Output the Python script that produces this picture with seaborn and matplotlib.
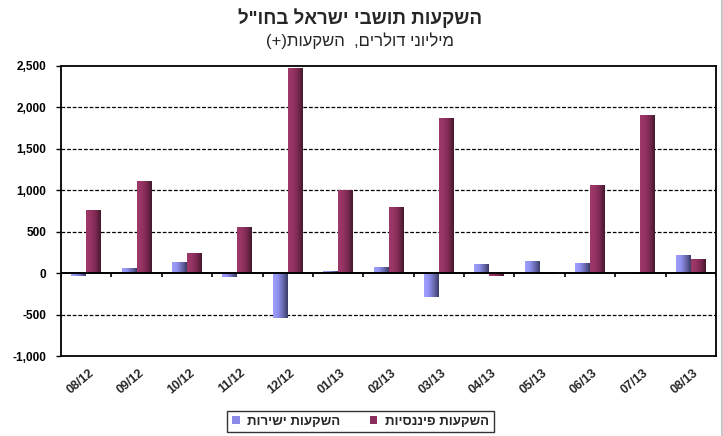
import numpy as np
import pandas as pd
import matplotlib
matplotlib.use('Agg')
import matplotlib.pyplot as plt
import seaborn as sns
from matplotlib.colors import LinearSegmentedColormap
from matplotlib.patches import Patch
from matplotlib.lines import Line2D
from matplotlib.transforms import ScaledTranslation

# ---- data ----
months = ['08/12', '09/12', '10/12', '11/12', '12/12', '01/13', '02/13',
          '03/13', '04/13', '05/13', '06/13', '07/13', '08/13']
direct = [-30, 50, 125, -45, -540, 15, 65, -285, 100, 135, 110, -15, 210]
financial = [750, 1110, 230, 545, 2470, 995, 785, 1870, -30, -15, 1050, 1895, 160]
series_direct = 'השקעות ישירות'
series_fin = 'השקעות פיננסיות'
title_text = 'השקעות תושבי ישראל בחו"ל'
yticks = [-1000, -500, 0, 500, 1000, 1500, 2000, 2500]


def vis(s):
    """Visual (left-to-right) order for a pure Hebrew string."""
    return s[::-1]


# visual order of the subtitle
subtitle_vis = '(+)' + vis('השקעות') + '  ,' + vis('דולרים') + ' ' + vis('מיליוני')

df = pd.DataFrame({
    'month': months * 2,
    'value': direct + financial,
    'series': [series_direct] * len(months) + [series_fin] * len(months),
})

sns.set_style('white')
plt.rcParams['font.family'] = ['Liberation Sans', 'DejaVu Sans']

fig = plt.figure(figsize=(7.23, 4.36), dpi=100)
ax = fig.add_axes([61 / 723, 80 / 436, (716 - 61) / 723, (356 - 66) / 436])

mid_direct = '#8282e0'
mid_fin = '#8a2d5c'
sns.barplot(data=df, x='month', y='value', hue='series',
            hue_order=[series_direct, series_fin], order=months,
            palette=[mid_direct, mid_fin], width=0.59, legend=False,
            ax=ax, zorder=2, linewidth=0)

cm_direct = LinearSegmentedColormap.from_list(
    'd', ['#a0a0ff', '#9090f0', '#6a6ab0', '#3c3c68'])
cm_fin = LinearSegmentedColormap.from_list(
    'f', ['#9e3a6b', '#963363', '#7a2850', '#421a2e'])
grad = np.linspace(0, 1, 64).reshape(1, -1)
for cont, cmap in zip(ax.containers, [cm_direct, cm_fin]):
    for p in cont.patches:
        x, y = p.get_x(), p.get_y()
        w, h = p.get_width(), p.get_height()
        if h == 0:
            continue
        ax.imshow(grad, cmap=cmap, extent=(x, x + w, min(y, y + h), max(y, y + h)),
                  aspect='auto', zorder=3, interpolation='bilinear')

ax.set_xlim(-0.5, len(months) - 0.5)
ax.set_ylim(-1000, 2500)

# grid & zero line
for v in yticks:
    if v not in (0, -1000, 2500):
        ax.axhline(v, color='black', lw=0.9, ls=(0, (3, 1.5)), zorder=1)
ax.axhline(0, color='black', lw=1.4, zorder=5)
# category boundary tick marks on the zero line
ax.vlines(np.arange(len(months) + 1) - 0.5, -48, 0, color='black', lw=1.2, zorder=5)

for s in ax.spines.values():
    s.set_visible(True)
    s.set_color('black')
    s.set_linewidth(1.3)

ax.set_xlabel('')
ax.set_ylabel('')
ax.set_yticks(yticks)
ax.set_yticklabels([f'{v:,}' for v in yticks], fontweight='bold', fontsize=8.5)
ax.tick_params(axis='y', left=True, length=3.5, width=1, pad=7, colors='black')
ax.tick_params(axis='x', bottom=False, length=0, pad=11)
ax.set_xticks(range(len(months)))
ax.set_xticklabels(months, rotation=40, ha='right', va='center',
                   rotation_mode='anchor', fontweight='bold', fontsize=9)
shift = ScaledTranslation(6 / 100, 0, fig.dpi_scale_trans)
for lab in ax.get_xticklabels():
    lab.set_transform(lab.get_transform() + shift)

fig.text(0.498, 1 - 18 / 436, vis(title_text), ha='center', va='center',
         fontsize=13.5, fontweight='bold')
fig.text(0.498, 1 - 41 / 436, subtitle_vis, ha='center', va='center', fontsize=12)

handles = [Patch(facecolor='#8a8ae8', edgecolor='none', label=vis(series_direct)),
           Patch(facecolor=mid_fin, edgecolor='none', label=vis(series_fin))]
leg = fig.legend(handles=handles, loc='center', bbox_to_anchor=(360.5 / 723, 1 - 421.5 / 436),
                 ncol=2, frameon=True, fancybox=False, edgecolor='black',
                 handlelength=0.6, handleheight=0.6, handletextpad=0.6,
                 columnspacing=2.2, borderpad=0.35,
                 prop={'weight': 'bold', 'size': 9.5})
leg.get_frame().set_linewidth(1.0)

fig.add_artist(Line2D([0.9985, 0.9985], [0, 1], transform=fig.transFigure,
                      color='#c8c8c8', lw=1.5))

fig.savefig('out.png', dpi=100)
